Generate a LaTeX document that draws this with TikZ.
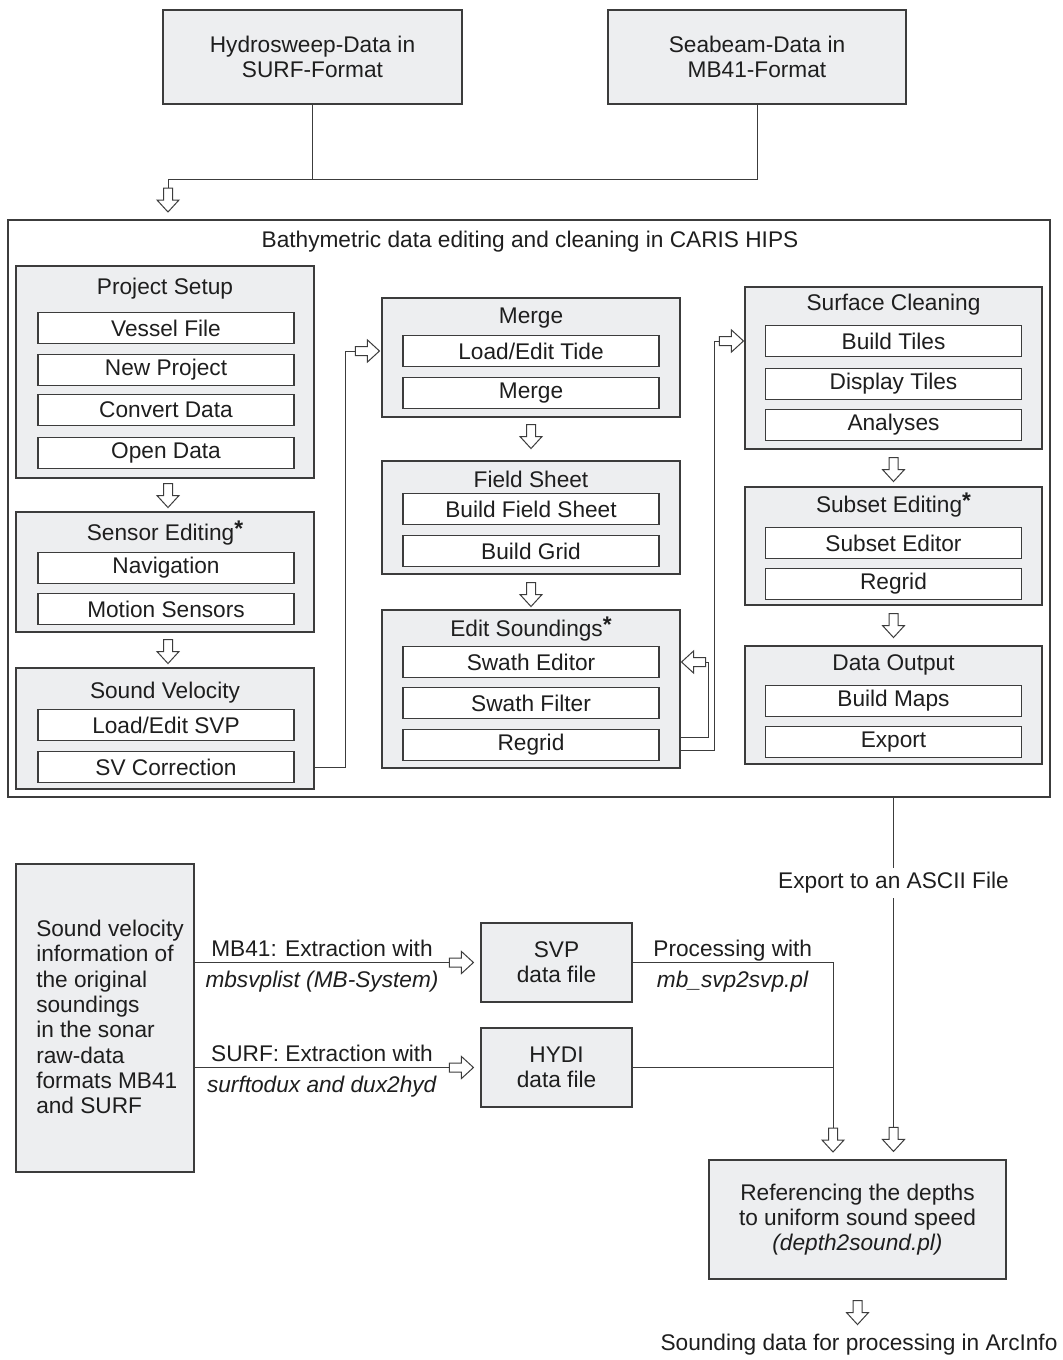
\documentclass[tikz,border=0pt]{standalone}
\usepackage{fontspec}
\setmainfont{Liberation Sans}
\usetikzlibrary{calc}
\definecolor{boxgray}{HTML}{EDEEF0}
\definecolor{linegray}{HTML}{3C3C3C}
\definecolor{textgray}{HTML}{1E1E1E}
\newcommand{\pxu}{0.75pt}
\newcommand{\wildmark}{\raisebox{0.3ex}{\bfseries *}}
\begin{document}
\begin{tikzpicture}[x=\pxu, y=-\pxu, font=\fontsize{17}{19}\selectfont, text=textgray,
		box/.style={draw=linegray, line width=0.8pt, fill=boxgray, inner sep=0pt, align=center},
		group/.style={box, minimum width=298*\pxu},
		item/.style={draw=linegray, line width=0.8pt, fill=white, inner sep=0pt, minimum width=256*\pxu, minimum height=31*\pxu},
		link/.style={draw=linegray, line width=0.75pt},
		upperlbl/.style={anchor=base, inner sep=0pt, yshift=4.5pt},
		lowerlbl/.style={anchor=base, inner sep=0pt, yshift=-18.5pt},
		pics/harrow/.style={code={\draw[link, fill=white, line join=miter] (0,-4.5) -- (12,-4.5) -- (12,-11) -- (24,0) -- (12,11) -- (12,4.5) -- (0,4.5) -- cycle;}}]
		\useasboundingbox (0,0) rectangle (1063,1360);
		\draw (312.5,57) node [box, minimum width=299*\pxu, minimum height=94*\pxu] (hydro) {Hydrosweep-Data in\\SURF-Format};
		\draw (757,57) node [box, minimum width=298*\pxu, minimum height=94*\pxu] (seabeam) {Seabeam-Data in\\MB41-Format};
		\draw (529,508.5) node [draw=linegray, line width=0.8pt, fill=white, minimum width=1042*\pxu, minimum height=577*\pxu] (caris) {};
		\draw (530,242) node (caristitle) {Bathymetric data editing and cleaning in CARIS HIPS};
		\coordinate (split) at (168,179);
		\draw [link] (hydro.south) -- (hydro.south |- split);
		\draw [link] (seabeam.south) |- (split) -- ++(0,9) pic [rotate=-90] {harrow};
		
		\draw (165,372) node [group, minimum height=212*\pxu] (setup) {};
		\draw (165,289) node (setuptitle) {Project Setup};
		\draw (166,328) node [item] (vessel) {Vessel File};
		\draw (166,370) node [item] (newproj) {New Project};
		\draw (166,410) node [item] (convert) {Convert Data};
		\draw (166,453) node [item] (opendata) {Open Data};
		\draw (165,572) node [group, minimum height=120*\pxu] (sensor) {};
		\draw (165,533) node (sensortitle) {Sensor Editing\wildmark};
		\draw (166,568) node [item] (navigation) {Navigation};
		\draw (166,609) node [item] (motion) {Motion Sensors};
		\draw (165,728.5) node [group, minimum height=121*\pxu] (soundvel) {};
		\draw (165,693) node (soundveltitle) {Sound Velocity};
		\draw (166,725) node [item] (loadsvp) {Load/Edit SVP};
		\draw (166,767) node [item] (svcorr) {SV Correction};
		\path (setup.south) ++(3,5) pic [rotate=-90] {harrow};
		\path (sensor.south) ++(3,7) pic [rotate=-90] {harrow};
		
		\draw (531,357.5) node [group, minimum height=119*\pxu] (merge) {};
		\draw (531,318) node (mergetitle) {Merge};
		\draw (531,351) node [item] (loadtide) {Load/Edit Tide};
		\draw (531,393) node [item] (mergeitem) {Merge};
		\draw (531,517.5) node [group, minimum height=113*\pxu] (fieldsheet) {};
		\draw (531,479) node (fieldsheettitle) {Field Sheet};
		\draw (531,509) node [item] (buildfs) {Build Field Sheet};
		\draw (531,551) node [item] (buildgrid) {Build Grid};
		\draw (531,689) node [group, minimum height=158*\pxu] (editsnd) {};
		\draw (531,629) node (editsndtitle) {Edit Soundings\wildmark};
		\draw (531,662) node [item] (swathed) {Swath Editor};
		\draw (531,703) node [item] (swathfilt) {Swath Filter};
		\draw (531,745) node [item] (regridone) {Regrid};
		\path (merge.south) ++(0,7) pic [rotate=-90] {harrow};
		\path (fieldsheet.south) ++(0,8) pic [rotate=-90] {harrow};
		
		\draw (893.5,368) node [group, minimum width=297*\pxu, minimum height=162*\pxu] (surfclean) {};
		\draw (893.5,305) node (surfcleantitle) {Surface Cleaning};
		\draw (893.5,341) node [item] (tiles) {Build Tiles};
		\draw (893.5,384) node [item] (disptiles) {Display Tiles};
		\draw (893.5,425) node [item] (analyses) {Analyses};
		\draw (893.5,546) node [group, minimum width=297*\pxu, minimum height=118*\pxu] (subset) {};
		\draw (893.5,505) node (subsettitle) {Subset Editing\wildmark};
		\draw (893.5,543) node [item] (subseted) {Subset Editor};
		\draw (893.5,584) node [item] (regridtwo) {Regrid};
		\draw (893.5,705) node [group, minimum width=297*\pxu, minimum height=118*\pxu] (dataout) {};
		\draw (893.5,665) node (dataouttitle) {Data Output};
		\draw (893.5,701) node [item] (maps) {Build Maps};
		\draw (893.5,742) node [item] (export) {Export};
		\path (surfclean.south) ++(0,8) pic [rotate=-90] {harrow};
		\path (subset.south) ++(0,8) pic [rotate=-90] {harrow};
		
		\coordinate (bendone) at (345,351);
		\draw [link] (soundvel.east |- svcorr) -| (bendone) -- ($(merge.west |- loadtide)+(-26,0)$) pic {harrow};
		\draw [link] ($(editsnd.east)+(0,48)$) -- ++(28,0) |- ($(editsnd.east |- swathed)+(25,0)$) pic [rotate=180] {harrow};
		\draw [link] ($(editsnd.east)+(0,61)$) -- ++(34,0) |- ($(surfclean.west |- tiles)+(-25,0)$) pic {harrow};
		
		\draw (105,1018) node [box, minimum width=178*\pxu, minimum height=308*\pxu] (svinfo) {};
		\draw (36,1017) node [anchor=west, inner sep=0pt, align=left] (svinfotext) {Sound velocity\\information of\\the original\\soundings\\in the sonar\\raw-data\\formats MB41\\and SURF};
		\draw (556.5,962.5) node [box, minimum width=151*\pxu, minimum height=79*\pxu] (svp) {SVP\\data file};
		\draw (556.5,1067.5) node [box, minimum width=151*\pxu, minimum height=79*\pxu] (hydi) {HYDI\\data file};
		\draw (857.5,1219.5) node [box, minimum width=297*\pxu, minimum height=119*\pxu] (refbox) {Referencing the depths\\to uniform sound speed\\\textit{(depth2sound.pl)}};
		\draw (893.5,883) node (exportlbl) {Export to an ASCII File};
		\draw (859,1345) node (arcinfo) {Sounding data for processing in ArcInfo};
		
		\draw [link] (svinfo.east |- svp) -- ($(svp.west)+(-31,0)$) node [midway, upperlbl] {MB41: Extraction with} node [midway, lowerlbl] {\textit{mbsvplist (MB-System)}} pic {harrow};
		\draw [link] (svinfo.east |- hydi) -- ($(hydi.west)+(-31,0)$) node [midway, upperlbl] {SURF: Extraction with} node [midway, lowerlbl] {\textit{surftodux and dux2hyd}} pic {harrow};
		\coordinate (joinsv) at (833,1128);
		\draw [link] (svp.east) -- (svp.east -| joinsv) node [midway, upperlbl] {Processing with} node [midway, lowerlbl] {\textit{mb\_svp2svp.pl}} -- (joinsv) pic [rotate=-90] {harrow};
		\draw [link] (hydi.east) -- (hydi.east -| joinsv);
		\draw [link] (caris.south -| exportlbl) -- (exportlbl.north);
		\draw [link] (exportlbl.south) -- ($(exportlbl |- refbox.north)+(0,-32)$) pic [rotate=-90] {harrow};
		\path (refbox.south) ++(0,21) pic [rotate=-90] {harrow};
	\end{tikzpicture}
\end{document}
